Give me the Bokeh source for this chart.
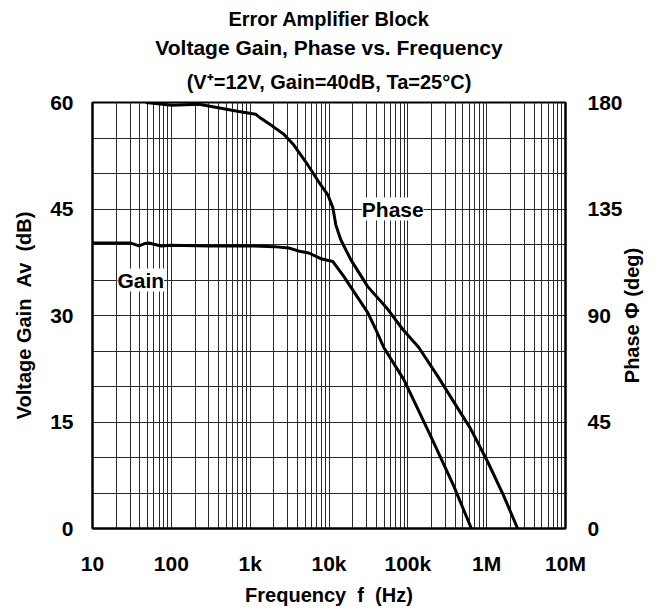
import math
from bokeh.plotting import figure
from bokeh.models import (LinearAxis, Range1d, FixedTicker, Title, Label)
from bokeh.embed import file_html
from bokeh.resources import INLINE

# ---- data ----
gain_freq = [10, 30.8, 38.8, 45, 52, 74, 100, 300, 1000, 2000, 3090, 4395, 5550,
             7870, 11200, 15400, 31000, 39000, 49500, 88700, 195000, 382000, 640000]
gain_db = [40.2, 40.2, 39.8, 40.1, 40.2, 39.8, 39.9, 39.8, 39.8, 39.7, 39.5, 39.0, 38.8,
           38.0, 37.6, 35.5, 30.4, 28.1, 25.5, 21.0, 13.0, 6.0, 0.0]

phase_freq = [47.6, 102, 224, 719, 1181, 1367, 1997, 2673, 3580, 5387, 7430, 9660,
              11200, 12200, 14100, 18900, 31000, 55700, 86000, 137000, 239000,
              627000, 1030000, 1640000, 2470000]
phase_deg = [180, 178.8, 179.3, 176.2, 175, 173.3, 169.6, 166.6, 162, 153.6, 146.4, 141,
             135.5, 128.3, 122, 113.6, 102.2, 92.6, 84.2, 76.6, 64.4,
             42.1, 28.2, 13.9, 0]

x_major = [10, 100, 1000, 10000, 100000, 1000000, 10000000]
x_labels = ["10", "100", "1k", "10k", "100k", "1M", "10M"]
left_ticks = [0, 15, 30, 45, 60]
right_ticks = [0, 45, 90, 135, 180]

title_lines = ["Error Amplifier Block",
               "Voltage Gain, Phase vs. Frequency",
               "(V\u207a=12V, Gain=40dB, Ta=25\u00b0C)"]
title_sizes = ["20px", "21px", "20px"]
title_standoffs = [8, 0, 20]

FONT = "Liberation Sans"
NB = "\u00a0"

p = figure(width=665, height=608, x_axis_type="log",
           x_range=(10, 1e7), y_range=(0, 60),
           output_backend="svg", toolbar_location=None,
           min_border_left=92, min_border_right=100, min_border_bottom=78,
           min_border_top=102)
p.title = None
p.background_fill_color = "white"
p.outline_line_color = "black"
p.outline_line_width = 2

p.extra_y_ranges = {"phase": Range1d(0, 180)}

# grids
grid_ticks = [m * 10 ** e for e in range(1, 7) for m in range(1, 10)] + [1e7]
p.xgrid.ticker = FixedTicker(ticks=grid_ticks)
p.xgrid.grid_line_color = "#2a2a2a"
p.xgrid.grid_line_width = 1
p.ygrid.ticker = FixedTicker(ticks=list(range(0, 61, 5)))
p.ygrid.grid_line_color = "#2a2a2a"
p.ygrid.grid_line_width = 1

def style_axis(ax):
    ax.major_label_text_font = FONT
    ax.major_label_text_font_style = "bold"
    ax.major_label_text_font_size = "21px"
    ax.major_label_text_color = "black"
    ax.axis_label_text_font = FONT
    ax.axis_label_text_font_style = "bold"
    ax.axis_label_text_font_size = "20px"
    ax.axis_label_text_color = "black"
    ax.major_tick_line_color = None
    ax.minor_tick_line_color = None
    ax.axis_line_color = "black"
    ax.axis_line_width = 2

xa = p.xaxis[0]
xa.ticker = FixedTicker(ticks=x_major)
xa.major_label_overrides = {v: s for v, s in zip(x_major, x_labels)}
xa.axis_label = "Frequency" + NB * 2 + "f" + NB * 2 + "(Hz)"
xa.major_label_standoff = 17
xa.axis_label_standoff = 6
style_axis(xa)

ya = p.yaxis[0]
ya.ticker = FixedTicker(ticks=left_ticks)
ya.axis_label = "Voltage Gain" + NB * 2 + "Av" + NB * 2 + "(dB)"
ya.major_label_standoff = 13
ya.axis_label_standoff = 12
style_axis(ya)

ra = LinearAxis(y_range_name="phase", ticker=FixedTicker(ticks=right_ticks))
ra.major_label_standoff = 16
style_axis(ra)
p.add_layout(ra, "right")

# right axis title (reads bottom-to-top); drawn as the single label of a bare axis,
# anchored so that the rotated text is centred on the frame height
phase_title = "Phase" + NB + "\u03a6" + NB + "(deg)"
phase_title_anchor = 61.4
rt = LinearAxis(y_range_name="phase", ticker=FixedTicker(ticks=[phase_title_anchor]),
                major_label_overrides={phase_title_anchor: phase_title})
style_axis(rt)
rt.axis_line_color = None
rt.major_label_text_font_size = "20px"
rt.major_label_orientation = math.pi / 2
rt.major_label_standoff = 1
p.add_layout(rt, "right")

# curves
p.line(gain_freq, gain_db, line_color="black", line_width=3)
p.line(phase_freq, phase_deg, line_color="black", line_width=3, y_range_name="phase")

# curve labels
for txt, fx, fy in [("Gain", 41, 35), ("Phase", 64400, 45)]:
    p.add_layout(Label(x=fx, y=fy, text=txt, text_align="center", text_baseline="middle",
                       text_font=FONT, text_font_style="bold", text_font_size="21px",
                       text_color="black", background_fill_color="white",
                       background_fill_alpha=1.0))

# titles (first added sits closest to the frame)
for t, sz, so in reversed(list(zip(title_lines, title_sizes, title_standoffs))):
    p.add_layout(Title(text=t, align="center", text_font=FONT, text_font_style="bold",
                       text_font_size=sz, text_color="black", standoff=so), "above")

open("out.html", "w").write(file_html(p, INLINE))
